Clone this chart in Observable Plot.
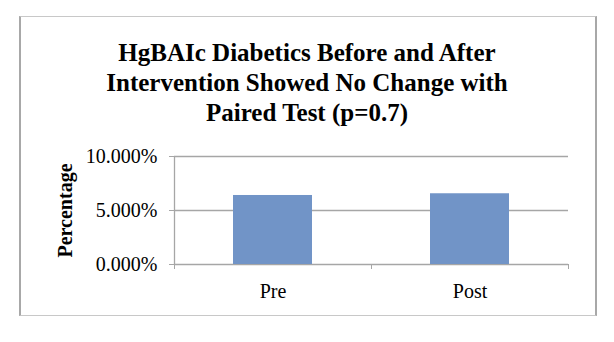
<!DOCTYPE html>
<html>
<head>
<meta charset="utf-8">
<script src="https://cdn.jsdelivr.net/npm/d3@7"></script>
<script src="https://cdn.jsdelivr.net/npm/@observablehq/plot@0.6"></script>
<style>
  html, body { margin: 0; padding: 0; background: #fff; }
  #wrap { position: relative; width: 614px; height: 342px; overflow: hidden; }
  #frame { position: absolute; left: 19px; top: 16px; width: 578px; height: 300px; box-sizing: border-box;
           border-top: 1px solid #c8c8c8; border-bottom: 1px solid #c8c8c8;
           border-left: 2px solid #a8a8a8; border-right: 2px solid #a8a8a8; }
  #title { position: absolute; left: 0; top: 38px; width: 614px; text-align: center;
           font: bold 25px/30px "Liberation Serif", "Times New Roman", serif; color: #000; }
  #chart { position: absolute; left: 0; top: 0; }
</style>
</head>
<body>
<div id="wrap">
  <div id="frame"></div>
  <div id="title">HgBAIc Diabetics Before and After<br>Intervention Showed No Change with<br>Paired Test (p=0.7)</div>
  <div id="chart"></div>
</div>
<script>
const categories = ["Pre", "Post"];
const values = [0.0639, 0.0655];
const yTicks = [0, 0.05, 0.10];
const yLabel = "Percentage";

const data = categories.map((c, i) => ({category: c, index: i, value: values[i]}));
const boundaries = d3.range(categories.length + 1);
const centers = categories.map((c, i) => i + 0.5);

const plot = Plot.plot({
  width: 614,
  height: 342,
  marginLeft: 174,
  marginRight: 46,
  marginTop: 156,
  marginBottom: 78,
  style: {background: "transparent", fontFamily: "'Liberation Serif', 'Times New Roman', serif", fontSize: "20px", color: "#000"},
  x: {domain: [0, categories.length], axis: null},
  y: {domain: [0, 0.10], axis: null},
  marks: [
    Plot.ruleY(yTicks, {stroke: "#a6a6a6", strokeWidth: 1.3}),
    Plot.rectY(data, {x1: "index", x2: d => d.index + 1, y: "value", fill: "#7194c7", insetLeft: 59, insetRight: 59}),
    Plot.ruleX([0], {stroke: "#a6a6a6", strokeWidth: 1.3}),
    Plot.axisY({ticks: yTicks, tickSize: 5, tickPadding: 12, stroke: "#a6a6a6",
      tickFormat: d => (d * 100).toFixed(3) + "%", fontSize: 20, fill: "#000", label: null}),
    Plot.axisX({ticks: boundaries, tickSize: 5, tickFormat: () => "", stroke: "#a6a6a6", label: null}),
    Plot.axisX({ticks: centers, tickSize: 0, tickPadding: 19, tickFormat: d => categories[Math.floor(d)], fontSize: 20, fill: "#000", label: null}),
    Plot.text([yLabel], {frameAnchor: "left", textAnchor: "middle", rotate: -90, dx: -109, fontWeight: "bold", fontSize: 20, fill: "#000"})
  ]
});
document.getElementById("chart").appendChild(plot);
</script>
</body>
</html>
